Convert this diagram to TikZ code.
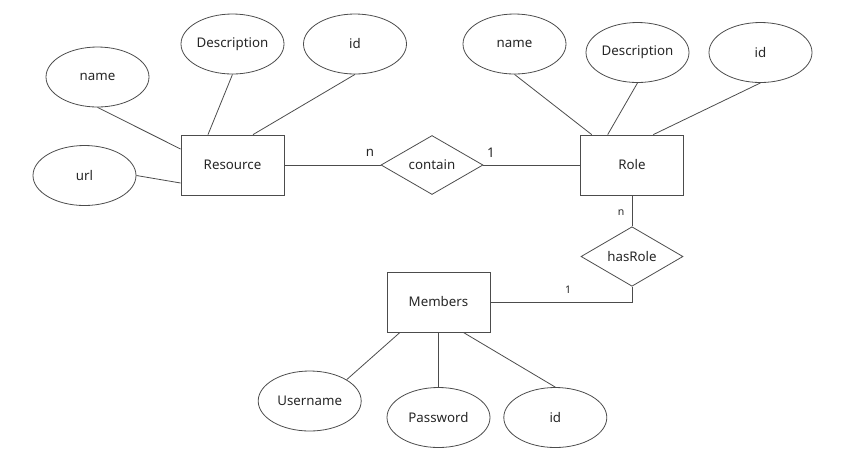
\documentclass[tikz,border=0pt]{standalone}
\usepackage{fontspec}
\setmainfont{Noto Sans}
\usetikzlibrary{shapes.geometric}
\begin{document}
\begin{tikzpicture}[x=1pt,y=-1pt,
  every node/.style={text=black!85, font=\fontsize{13.3}{15}\selectfont},
  entity/.style={draw=black!70, line width=0.8pt, rectangle, inner sep=0pt,
    minimum width=103pt, minimum height=60pt},
  attr/.style={draw=black!70, line width=0.8pt, ellipse, inner sep=0pt,
    minimum width=103pt, minimum height=60pt},
  rel/.style={draw=black!70, line width=0.8pt, diamond, inner sep=0pt,
    minimum width=102pt, minimum height=59pt},
  link/.style={draw=black!70, line width=0.8pt},
  card/.style={inner sep=0pt},
  smallcard/.style={inner sep=0pt, font=\fontsize{10.5}{12}\selectfont}]
\useasboundingbox (0,0) rectangle (846,467);

% entities
\node[entity] (res)  at (232.5,165) {Resource};
\node[entity] (role) at (632,165)   {Role};
\node[entity] (mem)  at (438.5,302) {Members};

% relationships
\node[rel] (contain) at (432,165)   {contain};
\node[rel] (has)     at (632,256.5) {hasRole};

% attributes of Resource
\node[attr] (rname) at (97.5,77)  {name};
\node[attr] (rdesc) at (232.5,44) {Description};
\node[attr] (rid)   at (355,44)   {id};
\node[attr] (rurl)  at (84.5,175.5) {url};

% attributes of Role
\node[attr] (oname) at (514.5,44)   {name};
\node[attr] (odesc) at (637.5,52.5) {Description};
\node[attr] (oid)   at (760.5,52.5) {id};

% attributes of Members
\node[attr] (muser) at (309.7,401)   {Username};
\node[attr] (mpass) at (438.5,417.5) {Password};
\node[attr] (mid)   at (555.3,417.5) {id};

% attribute links
\draw[link] (rname.south) -- ([yshift=16pt]res.west);
\draw[link] (rdesc.south) -- ([xshift=-24.5pt]res.north);
\draw[link] (rid.south)   -- ([xshift=20.5pt]res.north);
\draw[link] (rurl.east)   -- ([yshift=-18pt]res.west);

\draw[link] (oname.south) -- ([xshift=-40.3pt]role.north);
\draw[link] (odesc.south) -- ([xshift=-24.3pt]role.north);
\draw[link] (oid.south)   -- ([xshift=21.3pt]role.north);

\draw[link] (muser.30)    -- ([xshift=-38.5pt]mem.south);
\draw[link] (mpass.north) -- (mem.south);
\draw[link] (mid.north)   -- ([xshift=24.8pt]mem.south);

% relationship links
\draw[link] (res.east) -- (contain.west);
\draw[link] (contain.east) -- (role.west);
\draw[link] (role.south) -- (has.north);
\draw[link] (mem.east) -| (has.south);

% cardinalities
\node[card] (c1) at (370,153) {n};
\node[card] (c2) at (491,153) {1};
\node[smallcard] (c3) at (621,213) {n};
\node[smallcard] (c4) at (568,290) {1};
\end{tikzpicture}
\end{document}
